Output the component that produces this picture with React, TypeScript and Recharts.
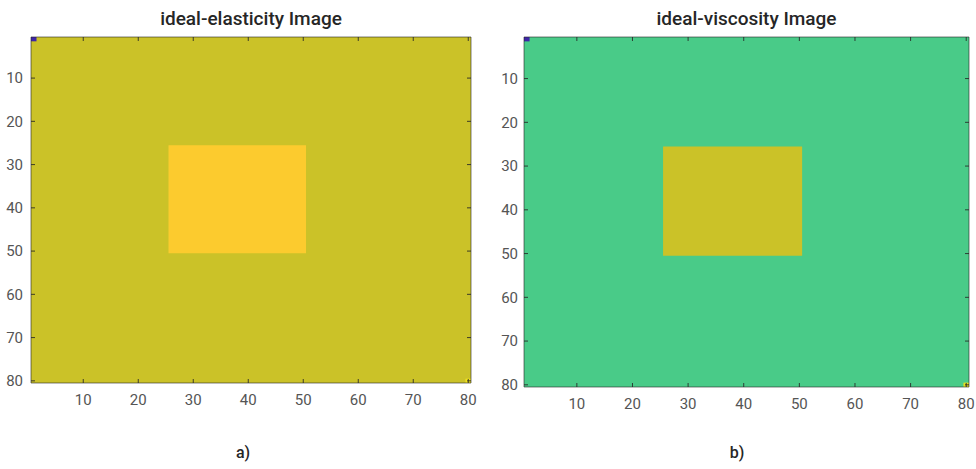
import React from 'react';
import { ComposedChart, XAxis, YAxis, ReferenceArea, Scatter } from 'recharts';

// image grid: 80 x 80 pixels, pixel i spans [i-0.5, i+0.5]
const gridDomain: [number, number] = [0.5, 80.5];
const xTicks = [10, 20, 30, 40, 50, 60, 70, 80];
const yTicks = [10, 20, 30, 40, 50, 60, 70, 80];

type Cell = { x1: number; x2: number; y1: number; y2: number; fill: string };

// ideal-elasticity image: background, inclusion (cols/rows 26..50), corner pixels
const elasticityCells: Cell[] = [
  { x1: 0.5, x2: 80.5, y1: 0.5, y2: 80.5, fill: '#CBC228' },
  { x1: 25.5, x2: 50.5, y1: 25.5, y2: 50.5, fill: '#FCCB2E' },
  { x1: 0.5, x2: 1.5, y1: 0.5, y2: 1.5, fill: '#3E26A8' },
  { x1: 79.5, x2: 80.5, y1: 79.5, y2: 80.5, fill: '#F2E41C' },
];

// ideal-viscosity image
const viscosityCells: Cell[] = [
  { x1: 0.5, x2: 80.5, y1: 0.5, y2: 80.5, fill: '#49CB88' },
  { x1: 25.5, x2: 50.5, y1: 25.5, y2: 50.5, fill: '#CBC228' },
  { x1: 0.5, x2: 1.5, y1: 0.5, y2: 1.5, fill: '#3E26A8' },
  { x1: 79.5, x2: 80.5, y1: 79.5, y2: 80.5, fill: '#E6DE22' },
];

const titles = ['ideal-elasticity Image', 'ideal-viscosity Image'];
const captions = ['a)', 'b)'];

const axisStroke = '#262626';
const lineStyle = { stroke: axisStroke, strokeOpacity: 0.6, strokeWidth: 1 };
const tickStyle = { stroke: axisStroke, strokeOpacity: 0.85, strokeWidth: 1 };
const tickFont = { fill: '#555555', fontSize: 15, fontFamily: 'Roboto, sans-serif' };
const empty = () => '';

type Margin = { top: number; right: number; bottom: number; left: number };

function ImagePanel({
  cells,
  width,
  height,
  margin,
  yWidth,
  yGap,
}: {
  cells: Cell[];
  width: number;
  height: number;
  margin: Margin;
  yWidth: number;
  yGap: number;
}) {
  const corners = cells.flatMap((c) => [
    { x: c.x1, y: c.y1 },
    { x: c.x2, y: c.y2 },
  ]);
  const xH = 30;
  const overlayMargin: Margin = {
    top: margin.top,
    right: margin.right,
    bottom: margin.bottom + xH,
    left: margin.left + yWidth,
  };
  const boxIds: [string, string][] = [
    ['bm', 'lm'],
    ['t', 'r'],
  ];
  return (
    <div style={{ position: 'relative', width, height }}>
      {/* image layer with labelled axes */}
      <div style={{ position: 'absolute', left: 0, top: 0 }}>
        <ComposedChart width={width} height={height} margin={margin}>
          <Scatter
            xAxisId="b"
            yAxisId="l"
            data={corners}
            dataKey="y"
            shape={() => <g />}
            isAnimationActive={false}
          />
          {cells.map((c, i) => (
            <ReferenceArea
              key={i}
              xAxisId="b"
              yAxisId="l"
              x1={c.x1}
              x2={c.x2}
              y1={c.y1}
              y2={c.y2}
              fill={c.fill}
              fillOpacity={1}
              stroke="none"
              ifOverflow="visible"
            />
          ))}
          <XAxis
            xAxisId="b"
            dataKey="x"
            type="number"
            orientation="bottom"
            domain={gridDomain}
            ticks={xTicks}
            interval={0}
            allowDataOverflow
            height={xH}
            tickLine={false}
            tickSize={6}
            tickMargin={5}
            axisLine={false}
            tick={tickFont}
          />
          <YAxis
            yAxisId="l"
            dataKey="y"
            type="number"
            orientation="left"
            reversed
            domain={gridDomain}
            ticks={yTicks}
            interval={0}
            allowDataOverflow
            width={yWidth}
            tickLine={false}
            tickSize={yGap}
            tickMargin={0}
            axisLine={false}
            tick={tickFont}
          />
        </ComposedChart>
      </div>
      {/* box + inward ticks overlay */}
      <div style={{ position: 'absolute', left: 0, top: 0 }}>
        <ComposedChart width={width} height={height} margin={overlayMargin}>
          {boxIds.map(([xa, ya]) => (
            <Scatter
              key={xa}
              xAxisId={xa}
              yAxisId={ya}
              data={corners}
              dataKey="y"
              shape={() => <g />}
              isAnimationActive={false}
            />
          ))}
          <XAxis
            xAxisId="bm"
            dataKey="x"
            type="number"
            orientation="bottom"
            mirror
            domain={gridDomain}
            ticks={xTicks}
            interval={0}
            allowDataOverflow
            height={1}
            tickSize={4}
            tickFormatter={empty}
            axisLine={lineStyle}
            tickLine={tickStyle}
          />
          <XAxis
            xAxisId="t"
            dataKey="x"
            type="number"
            orientation="top"
            mirror
            domain={gridDomain}
            ticks={xTicks}
            interval={0}
            allowDataOverflow
            height={1}
            tickSize={4}
            tickFormatter={empty}
            axisLine={lineStyle}
            tickLine={tickStyle}
          />
          <YAxis
            yAxisId="lm"
            dataKey="y"
            type="number"
            orientation="left"
            mirror
            reversed
            domain={gridDomain}
            ticks={yTicks}
            interval={0}
            allowDataOverflow
            width={1}
            tickSize={4}
            tickFormatter={empty}
            axisLine={lineStyle}
            tickLine={tickStyle}
          />
          <YAxis
            yAxisId="r"
            dataKey="y"
            type="number"
            orientation="right"
            mirror
            reversed
            domain={gridDomain}
            ticks={yTicks}
            interval={0}
            allowDataOverflow
            width={1}
            tickSize={4}
            tickFormatter={empty}
            axisLine={lineStyle}
            tickLine={tickStyle}
          />
        </ComposedChart>
      </div>
    </div>
  );
}

const titleStyle: React.CSSProperties = {
  position: 'absolute',
  top: 5,
  fontFamily: 'Roboto, sans-serif',
  fontWeight: 500,
  fontSize: 19,
  color: '#262626',
  textAlign: 'center',
  whiteSpace: 'nowrap',
  lineHeight: '28px',
};

const captionStyle: React.CSSProperties = {
  position: 'absolute',
  top: 443,
  fontFamily: 'Roboto, sans-serif',
  fontWeight: 500,
  fontSize: 16,
  color: '#262626',
  textAlign: 'center',
  lineHeight: '20px',
};

export default function App() {
  return (
    <div
      style={{
        position: 'absolute',
        left: 0,
        top: 0,
        width: 976,
        height: 469,
        background: '#ffffff',
        overflow: 'hidden',
      }}
    >
      <div style={{ position: 'absolute', left: 0, top: 0 }}>
        <ImagePanel
          cells={elasticityCells}
          width={490}
          height={469}
          margin={{ top: 37, right: 19, bottom: 56, left: 0 }}
          yWidth={31}
          yGap={8}
        />
      </div>
      <div style={{ position: 'absolute', left: 490, top: 0 }}>
        <ImagePanel
          cells={viscosityCells}
          width={486}
          height={469}
          margin={{ top: 37, right: 7, bottom: 52, left: 0 }}
          yWidth={34}
          yGap={6}
        />
      </div>
      <div style={{ ...titleStyle, left: 31, width: 440 }}>{titles[0]}</div>
      <div style={{ ...titleStyle, left: 524, width: 445 }}>{titles[1]}</div>
      <div style={{ ...captionStyle, left: 203, width: 80 }}>{captions[0]}</div>
      <div style={{ ...captionStyle, left: 697, width: 80 }}>{captions[1]}</div>
    </div>
  );
}
